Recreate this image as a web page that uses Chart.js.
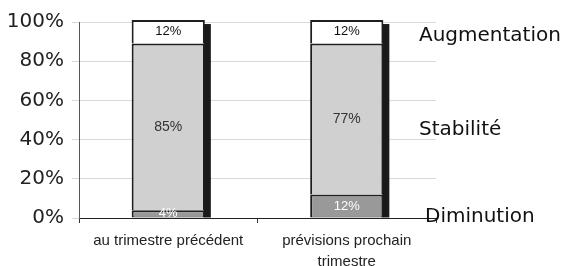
<!DOCTYPE html>
<html>
<head>
<meta charset="utf-8">
<script src="https://cdn.jsdelivr.net/npm/chart.js@4"></script>
<style>
  html, body { margin: 0; padding: 0; background: #fff; }
  #wrap { width: 566px; height: 266px; }
</style>
</head>
<body>
<div id="wrap"><canvas id="chart" width="566" height="266"></canvas></div>
<script>
// categories and series (percent of answers)
const categories = ["au trimestre précédent", ["prévisions prochain", "trimestre"]];
const seriesNames = ["Diminution", "Stabilité", "Augmentation"];
const diminution = [4, 12];
const stabilite = [85, 77];
const augmentation = [12, 12];
const yTicks = [0, 20, 40, 60, 80, 100];

// where the series names sit on the value axis, right of the bars
const nameLevels = [0.5, 45, 93];

// draws the percent labels inside each segment
const valueLabels = {
    id: "valueLabels",
    afterDatasetsDraw(chart) {
        const ctx = chart.ctx;
        const styles = [
            { color: "#ffffff", font: "13px 'Liberation Sans', Arial, sans-serif" },
            { color: "#333333", font: "14px 'Liberation Sans', Arial, sans-serif" },
            { color: "#111111", font: "13px 'Liberation Sans', Arial, sans-serif" }
        ];
        ctx.save();
        ctx.textAlign = "center";
        ctx.textBaseline = "middle";
        chart.data.datasets.forEach((ds, i) => {
            chart.getDatasetMeta(i).data.forEach((bar, j) => {
                ctx.fillStyle = styles[i].color;
                ctx.font = styles[i].font;
                ctx.fillText(ds.data[j] + "%", bar.x, (bar.y + bar.base) / 2);
            });
        });
        ctx.restore();
    }
};

// dark side strip next to each bar (3D look of the original)
const barShadow = {
    id: "barShadow",
    beforeDatasetsDraw(chart) {
        const ctx = chart.ctx;
        const metas = chart.data.datasets.map((d, i) => chart.getDatasetMeta(i));
        const top = metas[metas.length - 1];
        const bottom = metas[0];
        ctx.save();
        ctx.fillStyle = "#1a1a1a";
        top.data.forEach((bar, j) => {
            const x = bar.x + bar.width / 2;
            const y = bar.y + 4;
            const base = bottom.data[j].base;
            ctx.fillRect(x - 1, y, 7, base - y);
        });
        ctx.restore();
    }
};

// series names on the right, like the original
const seriesTitles = {
    id: "seriesTitles",
    afterDraw(chart) {
        const ctx = chart.ctx;
        const y = chart.scales.y;
        const right = chart.chartArea.right;
        const offsets = [-11, -17, -17];
        ctx.save();
        ctx.fillStyle = "#111111";
        ctx.font = "20px 'DejaVu Sans', sans-serif";
        ctx.textAlign = "left";
        ctx.textBaseline = "middle";
        seriesNames.forEach((name, i) => {
            ctx.fillText(name, right + offsets[i], y.getPixelForValue(nameLevels[i]));
        });
        ctx.restore();
    }
};

const side = { left: 2, right: 2 };

new Chart(document.getElementById("chart"), {
    type: "bar",
    data: {
        labels: categories,
        datasets: [
            {
                label: seriesNames[0],
                data: diminution,
                backgroundColor: "#999999",
                borderColor: "#1e1e1e",
                borderWidth: { ...side, top: 2, bottom: 1 }
            },
            {
                label: seriesNames[1],
                data: stabilite,
                backgroundColor: "#d0d0d1",
                borderColor: "#1e1e1e",
                borderWidth: { ...side, top: 2, bottom: 0 }
            },
            {
                label: seriesNames[2],
                data: augmentation,
                backgroundColor: "#ffffff",
                borderColor: "#1e1e1e",
                borderWidth: { ...side, top: 2, bottom: 0 }
            }
        ]
    },
    options: {
        responsive: false,
        animation: false,
        clip: false,
        datasets: {
            bar: {
                categoryPercentage: 1,
                barPercentage: 0.41,
                borderSkipped: false,
                clip: false
            }
        },
        layout: { padding: { left: 0, right: 130, top: 22, bottom: 0 } },
        plugins: {
            legend: { display: false },
            tooltip: { enabled: false }
        },
        scales: {
            x: {
                stacked: true,
                afterFit: s => { s.height = 48; },
                border: { color: "#222222", width: 1 },
                grid: {
                    drawOnChartArea: false,
                    tickLength: 5,
                    color: "#333333",
                    offset: true
                },
                ticks: {
                    color: "#222222",
                    padding: 8,
                    font: { family: "'Liberation Sans', Arial, sans-serif", size: 15, lineHeight: 1.35 }
                }
            },
            y: {
                stacked: true,
                min: 0,
                max: 100,
                afterFit: s => { s.width = 79; },
                afterBuildTicks: s => { s.ticks = yTicks.map(v => ({ value: v })); },
                border: { color: "#555555", width: 1 },
                grid: {
                    color: "#d9d9d9",
                    tickLength: 7,
                    lineWidth: 1
                },
                ticks: {
                    color: "#222222",
                    padding: 8,
                    font: { family: "'DejaVu Sans', sans-serif", size: 20 },
                    callback: v => v + "%"
                }
            }
        }
    },
    plugins: [barShadow, valueLabels, seriesTitles]
});
</script>
</body>
</html>
